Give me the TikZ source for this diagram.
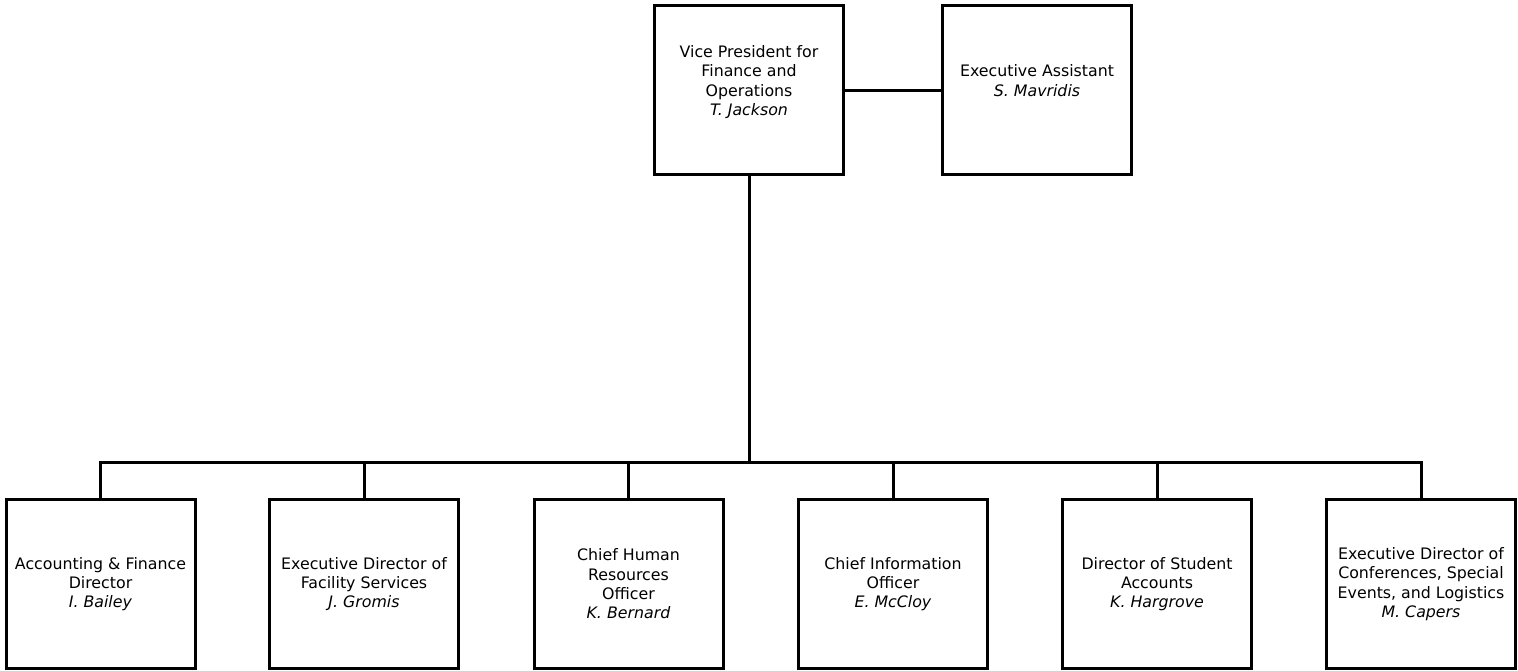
\documentclass[tikz,border=0pt]{standalone}
\usepackage{fontspec}
\setmainfont{DejaVu Sans}

\begin{document}
\begin{tikzpicture}[x=1pt, y=-1pt,
  box/.style={draw=black, line width=3pt, fill=white, minimum width=189pt, minimum height=169pt,
    inner sep=0pt, align=center, font=\fontsize{15.8}{19.3}\selectfont},
  headbox/.style={box, text depth=19pt},
  link/.style={black, line width=3pt}]
\useasboundingbox (0,0) rectangle (1518,670);
% top row
\node[headbox] (vp) at (749,90)
  {Vice President for\\Finance and\\Operations\\\textit{T. Jackson}};
\node[headbox] (ea) at (1037,90)
  {Executive Assistant\\\textit{S. Mavridis}};
\draw[link] (vp.east) -- (ea.west);
% bus between the VP and the directors
\coordinate (bus) at (749,462);
\draw[link] (vp.south) -- (bus);
% directors
\node[box] (acc) at (100.5,584) {Accounting \& Finance\\Director\\\textit{I. Bailey}};
\node[box] (fac) at (364,584) {Executive Director of\\Facility Services\\\textit{J. Gromis}};
\node[box] (hr)  at (628.5,584) {Chief Human\\Resources\\Officer\\\textit{K. Bernard}};
\node[box] (cio) at (893,584) {Chief Information\\Officer\\\textit{E. McCloy}};
\node[box] (stu) at (1157,584) {Director of Student\\Accounts\\\textit{K. Hargrove}};
\node[box] (conf) at (1421,584) {Executive Director of\\Conferences, Special\\Events, and Logistics\\\textit{M. Capers}};
\foreach \n in {acc,fac,hr,cio,stu,conf}
  \draw[link] (bus) -| (\n.north);
\end{tikzpicture}
\end{document}
